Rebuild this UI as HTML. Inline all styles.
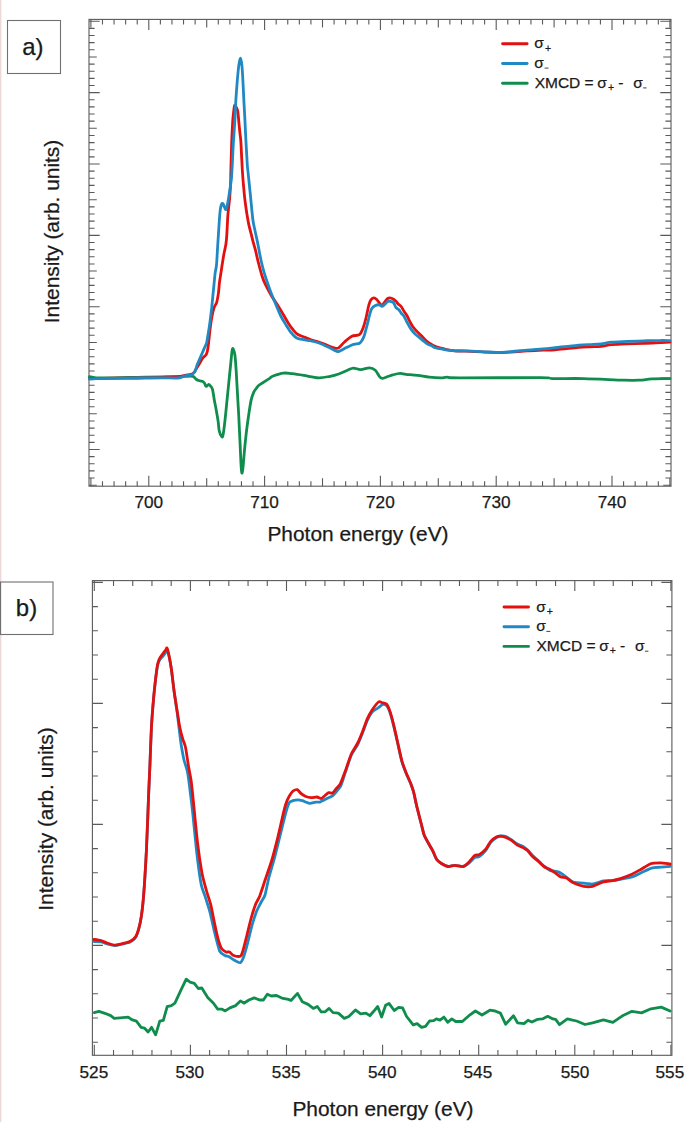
<!DOCTYPE html>
<html><head><meta charset="utf-8"><style>
html,body{margin:0;padding:0;background:#fff;}
body{width:685px;height:1122px;overflow:hidden;position:relative;}
svg{position:absolute;left:0;top:0;}
text{font-family:"Liberation Sans",sans-serif;fill:#1a1a1a;stroke:#1a1a1a;stroke-width:0.25px;}
.pink{position:absolute;left:0;top:0;width:1px;height:1122px;background:#ebd9d8;}
.pink2{position:absolute;left:1px;top:0;width:1px;height:1122px;background:#faf1ef;}
</style></head><body>
<div class="pink"></div><div class="pink2"></div>
<svg width="685" height="1122" viewBox="0 0 685 1122">
<rect x="89.0" y="19.4" width="582.0" height="466.8" fill="none" stroke="#5a5a5a" stroke-width="1.1"/>
<path d="M90.90,486.2v-8M90.90,19.4v8M102.48,486.2v-5M102.48,19.4v5M114.06,486.2v-5M114.06,19.4v5M125.64,486.2v-5M125.64,19.4v5M137.22,486.2v-5M137.22,19.4v5M148.80,486.2v-10.5M148.80,19.4v10.5M160.38,486.2v-5M160.38,19.4v5M171.96,486.2v-5M171.96,19.4v5M183.54,486.2v-5M183.54,19.4v5M195.12,486.2v-5M195.12,19.4v5M206.70,486.2v-8M206.70,19.4v8M218.28,486.2v-5M218.28,19.4v5M229.86,486.2v-5M229.86,19.4v5M241.44,486.2v-5M241.44,19.4v5M253.02,486.2v-5M253.02,19.4v5M264.60,486.2v-10.5M264.60,19.4v10.5M276.18,486.2v-5M276.18,19.4v5M287.76,486.2v-5M287.76,19.4v5M299.34,486.2v-5M299.34,19.4v5M310.92,486.2v-5M310.92,19.4v5M322.50,486.2v-8M322.50,19.4v8M334.08,486.2v-5M334.08,19.4v5M345.66,486.2v-5M345.66,19.4v5M357.24,486.2v-5M357.24,19.4v5M368.82,486.2v-5M368.82,19.4v5M380.40,486.2v-10.5M380.40,19.4v10.5M391.98,486.2v-5M391.98,19.4v5M403.56,486.2v-5M403.56,19.4v5M415.14,486.2v-5M415.14,19.4v5M426.72,486.2v-5M426.72,19.4v5M438.30,486.2v-8M438.30,19.4v8M449.88,486.2v-5M449.88,19.4v5M461.46,486.2v-5M461.46,19.4v5M473.04,486.2v-5M473.04,19.4v5M484.62,486.2v-5M484.62,19.4v5M496.20,486.2v-10.5M496.20,19.4v10.5M507.78,486.2v-5M507.78,19.4v5M519.36,486.2v-5M519.36,19.4v5M530.94,486.2v-5M530.94,19.4v5M542.52,486.2v-5M542.52,19.4v5M554.10,486.2v-8M554.10,19.4v8M565.68,486.2v-5M565.68,19.4v5M577.26,486.2v-5M577.26,19.4v5M588.84,486.2v-5M588.84,19.4v5M600.42,486.2v-5M600.42,19.4v5M612.00,486.2v-10.5M612.00,19.4v10.5M623.58,486.2v-5M623.58,19.4v5M635.16,486.2v-5M635.16,19.4v5M646.74,486.2v-5M646.74,19.4v5M658.32,486.2v-5M658.32,19.4v5M669.90,486.2v-8M669.90,19.4v8M89.0,21.25h10.7M671,21.25h-10.7M89.0,28.39h5.6M671,28.39h-5.6M89.0,35.52h5.6M671,35.52h-5.6M89.0,42.66h5.6M671,42.66h-5.6M89.0,49.80h5.6M671,49.80h-5.6M89.0,56.94h7.8M671,56.94h-7.8M89.0,64.08h5.6M671,64.08h-5.6M89.0,71.21h5.6M671,71.21h-5.6M89.0,78.35h5.6M671,78.35h-5.6M89.0,85.49h5.6M671,85.49h-5.6M89.0,92.62h10.7M671,92.62h-10.7M89.0,99.76h5.6M671,99.76h-5.6M89.0,106.90h5.6M671,106.90h-5.6M89.0,114.04h5.6M671,114.04h-5.6M89.0,121.17h5.6M671,121.17h-5.6M89.0,128.31h7.8M671,128.31h-7.8M89.0,135.45h5.6M671,135.45h-5.6M89.0,142.59h5.6M671,142.59h-5.6M89.0,149.72h5.6M671,149.72h-5.6M89.0,156.86h5.6M671,156.86h-5.6M89.0,164.00h10.7M671,164.00h-10.7M89.0,171.14h5.6M671,171.14h-5.6M89.0,178.28h5.6M671,178.28h-5.6M89.0,185.41h5.6M671,185.41h-5.6M89.0,192.55h5.6M671,192.55h-5.6M89.0,199.69h7.8M671,199.69h-7.8M89.0,206.83h5.6M671,206.83h-5.6M89.0,213.96h5.6M671,213.96h-5.6M89.0,221.10h5.6M671,221.10h-5.6M89.0,228.24h5.6M671,228.24h-5.6M89.0,235.38h10.7M671,235.38h-10.7M89.0,242.51h5.6M671,242.51h-5.6M89.0,249.65h5.6M671,249.65h-5.6M89.0,256.79h5.6M671,256.79h-5.6M89.0,263.93h5.6M671,263.93h-5.6M89.0,271.06h7.8M671,271.06h-7.8M89.0,278.20h5.6M671,278.20h-5.6M89.0,285.34h5.6M671,285.34h-5.6M89.0,292.48h5.6M671,292.48h-5.6M89.0,299.61h5.6M671,299.61h-5.6M89.0,306.75h10.7M671,306.75h-10.7M89.0,313.89h5.6M671,313.89h-5.6M89.0,321.03h5.6M671,321.03h-5.6M89.0,328.16h5.6M671,328.16h-5.6M89.0,335.30h5.6M671,335.30h-5.6M89.0,342.44h7.8M671,342.44h-7.8M89.0,349.57h5.6M671,349.57h-5.6M89.0,356.71h5.6M671,356.71h-5.6M89.0,363.85h5.6M671,363.85h-5.6M89.0,370.99h5.6M671,370.99h-5.6M89.0,378.12h10.7M671,378.12h-10.7M89.0,385.26h5.6M671,385.26h-5.6M89.0,392.40h5.6M671,392.40h-5.6M89.0,399.54h5.6M671,399.54h-5.6M89.0,406.68h5.6M671,406.68h-5.6M89.0,413.81h7.8M671,413.81h-7.8M89.0,420.95h5.6M671,420.95h-5.6M89.0,428.09h5.6M671,428.09h-5.6M89.0,435.23h5.6M671,435.23h-5.6M89.0,442.36h5.6M671,442.36h-5.6M89.0,449.50h10.7M671,449.50h-10.7M89.0,456.64h5.6M671,456.64h-5.6M89.0,463.78h5.6M671,463.78h-5.6M89.0,470.91h5.6M671,470.91h-5.6M89.0,478.05h5.6M671,478.05h-5.6M89.0,485.19h7.8M671,485.19h-7.8" stroke="#5a5a5a" stroke-width="1.1" fill="none"/>
<rect x="92.4" y="580.6" width="579.5" height="474.69999999999993" fill="none" stroke="#5a5a5a" stroke-width="1.1"/>
<path d="M94.30,1055.3v-10.5M94.30,580.6v10.5M113.52,1055.3v-5.3M113.52,580.6v5.3M132.74,1055.3v-5.3M132.74,580.6v5.3M151.96,1055.3v-5.3M151.96,580.6v5.3M171.18,1055.3v-5.3M171.18,580.6v5.3M190.40,1055.3v-10.5M190.40,580.6v10.5M209.62,1055.3v-5.3M209.62,580.6v5.3M228.84,1055.3v-5.3M228.84,580.6v5.3M248.06,1055.3v-5.3M248.06,580.6v5.3M267.28,1055.3v-5.3M267.28,580.6v5.3M286.50,1055.3v-10.5M286.50,580.6v10.5M305.72,1055.3v-5.3M305.72,580.6v5.3M324.94,1055.3v-5.3M324.94,580.6v5.3M344.16,1055.3v-5.3M344.16,580.6v5.3M363.38,1055.3v-5.3M363.38,580.6v5.3M382.60,1055.3v-10.5M382.60,580.6v10.5M401.82,1055.3v-5.3M401.82,580.6v5.3M421.04,1055.3v-5.3M421.04,580.6v5.3M440.26,1055.3v-5.3M440.26,580.6v5.3M459.48,1055.3v-5.3M459.48,580.6v5.3M478.70,1055.3v-10.5M478.70,580.6v10.5M497.92,1055.3v-5.3M497.92,580.6v5.3M517.14,1055.3v-5.3M517.14,580.6v5.3M536.36,1055.3v-5.3M536.36,580.6v5.3M555.58,1055.3v-5.3M555.58,580.6v5.3M574.80,1055.3v-10.5M574.80,580.6v10.5M594.02,1055.3v-5.3M594.02,580.6v5.3M613.24,1055.3v-5.3M613.24,580.6v5.3M632.46,1055.3v-5.3M632.46,580.6v5.3M651.68,1055.3v-5.3M651.68,580.6v5.3M670.90,1055.3v-10.5M670.90,580.6v10.5M92.4,582.40h10.5M671.9,582.40h-10.5M92.4,606.60h5.5M671.9,606.60h-5.5M92.4,630.80h5.5M671.9,630.80h-5.5M92.4,655.00h5.5M671.9,655.00h-5.5M92.4,679.20h5.5M671.9,679.20h-5.5M92.4,703.40h10.5M671.9,703.40h-10.5M92.4,727.60h5.5M671.9,727.60h-5.5M92.4,751.80h5.5M671.9,751.80h-5.5M92.4,776.00h5.5M671.9,776.00h-5.5M92.4,800.20h5.5M671.9,800.20h-5.5M92.4,824.40h10.5M671.9,824.40h-10.5M92.4,848.60h5.5M671.9,848.60h-5.5M92.4,872.80h5.5M671.9,872.80h-5.5M92.4,897.00h5.5M671.9,897.00h-5.5M92.4,921.20h5.5M671.9,921.20h-5.5M92.4,945.40h10.5M671.9,945.40h-10.5M92.4,969.60h5.5M671.9,969.60h-5.5M92.4,993.80h5.5M671.9,993.80h-5.5M92.4,1018.00h5.5M671.9,1018.00h-5.5M92.4,1042.20h5.5M671.9,1042.20h-5.5" stroke="#5a5a5a" stroke-width="1.1" fill="none"/>
<path d="M89.5,376.6 C90.6,376.8 92.4,377.6 96.2,377.8 C100.0,378.0 105.7,377.9 112.5,377.8 C119.3,377.7 128.8,377.5 137.0,377.3 C145.2,377.1 154.0,377.0 161.6,376.8 C169.2,376.6 177.6,376.5 182.8,376.4 C188.0,376.3 190.6,375.9 192.8,376.4 C195.0,376.9 195.0,378.5 196.1,379.2 C197.2,379.9 198.4,380.4 199.5,380.8 C200.6,381.2 202.0,381.0 202.8,381.4 C203.6,381.8 203.9,382.4 204.5,383.2 C205.1,384.0 205.5,386.2 206.2,386.4 C206.9,386.6 208.0,384.3 208.7,384.3 C209.4,384.3 210.0,385.4 210.6,386.2 C211.2,387.0 211.9,387.0 212.5,389.3 C213.1,391.6 213.7,396.5 214.3,399.9 C214.9,403.3 215.6,406.4 216.2,409.9 C216.8,413.4 217.6,417.6 218.1,421.1 C218.6,424.6 218.7,428.5 219.3,431.1 C219.9,433.7 221.2,436.1 221.8,436.7 C222.4,437.3 222.6,437.4 223.1,434.8 C223.6,432.2 224.3,426.5 224.9,421.1 C225.5,415.7 226.2,408.6 226.8,402.4 C227.4,396.2 228.1,389.9 228.7,383.7 C229.3,377.5 230.0,370.6 230.6,365.0 C231.2,359.4 231.7,352.6 232.2,350.0 C232.7,347.4 232.9,348.6 233.4,349.4 C233.9,350.2 234.4,351.4 234.9,355.0 C235.4,358.6 235.8,365.0 236.2,371.2 C236.6,377.4 237.0,385.1 237.4,392.4 C237.8,399.7 238.3,407.0 238.7,414.9 C239.1,422.8 239.5,431.9 239.9,439.8 C240.3,447.7 240.6,456.8 240.9,462.3 C241.2,467.8 241.5,472.1 241.8,472.9 C242.2,473.7 242.6,470.7 243.0,467.3 C243.4,463.9 243.8,457.9 244.3,452.3 C244.8,446.7 245.5,439.8 246.2,433.6 C246.9,427.4 247.9,420.5 248.7,414.9 C249.5,409.3 250.4,403.6 251.2,399.9 C252.0,396.1 252.9,394.3 253.7,392.4 C254.5,390.5 255.3,389.8 256.1,388.7 C256.9,387.6 257.6,386.4 258.6,385.5 C259.7,384.6 261.1,383.8 262.4,383.0 C263.6,382.2 264.8,381.4 266.1,380.6 C267.4,379.8 268.8,378.9 270.0,378.1 C271.2,377.3 270.9,376.8 273.1,376.0 C275.3,375.2 280.2,373.5 283.4,373.1 C286.6,372.7 288.7,373.3 292.1,373.7 C295.5,374.1 299.4,374.7 303.8,375.4 C308.2,376.1 314.0,377.6 318.4,377.8 C322.8,378.0 326.7,376.9 330.1,376.3 C333.5,375.7 335.9,375.0 338.8,374.0 C341.7,373.0 345.2,371.2 347.6,370.2 C350.0,369.2 351.2,368.2 353.4,368.1 C355.6,368.0 358.0,369.7 360.7,369.6 C363.4,369.6 367.1,367.7 369.5,367.8 C371.9,367.9 373.6,368.7 375.3,370.2 C377.0,371.7 378.5,375.5 379.7,376.9 C380.9,378.3 381.1,378.5 382.6,378.4 C384.1,378.3 386.8,376.9 388.5,376.3 C390.2,375.7 390.9,375.4 392.8,374.9 C394.7,374.4 397.9,373.5 400.1,373.4 C402.3,373.3 403.1,374.0 406.0,374.3 C408.9,374.6 413.8,374.9 417.7,375.4 C421.6,375.9 425.4,376.8 429.3,377.2 C433.2,377.6 438.1,377.8 441.0,377.8 C443.9,377.8 443.7,377.2 446.9,377.2 C450.1,377.2 444.4,377.7 460.0,377.8 C475.6,377.9 525.0,377.6 540.5,377.7 C556.0,377.8 545.6,378.5 552.8,378.6 C560.0,378.8 571.9,378.3 583.8,378.6 C595.7,378.9 614.7,379.9 624.0,380.2 C633.3,380.5 634.9,380.4 639.5,380.2 C644.1,380.0 646.8,379.2 651.9,378.9 C657.0,378.6 667.0,378.7 670.0,378.6" stroke="#0f8d4c" stroke-width="2.8" fill="none" stroke-linejoin="round" stroke-linecap="round"/>
<path d="M89.5,378.5 C90.6,378.5 92.2,378.4 96.0,378.4 C99.8,378.3 105.2,378.3 112.0,378.2 C118.8,378.1 128.7,378.1 137.0,378.0 C145.3,377.9 155.2,377.9 162.0,377.7 C168.8,377.5 174.2,377.4 178.0,377.0 C181.8,376.6 182.5,375.9 185.0,375.3 C187.5,374.7 191.0,374.6 192.8,373.6 C194.7,372.6 195.0,370.8 196.1,369.1 C197.2,367.4 198.4,365.5 199.5,363.6 C200.6,361.8 201.7,359.5 202.8,358.0 C203.9,356.5 205.4,356.2 206.2,354.7 C207.0,353.2 207.4,351.5 207.8,349.1 C208.2,346.7 208.5,343.6 208.9,340.2 C209.3,336.8 209.6,332.7 210.1,329.0 C210.6,325.3 211.0,321.4 211.7,317.9 C212.3,314.4 213.2,310.5 214.0,307.9 C214.8,305.3 216.0,304.7 216.7,302.3 C217.4,299.9 217.9,296.7 218.4,293.4 C218.9,290.1 219.0,286.0 219.5,282.3 C220.0,278.6 220.7,274.5 221.2,271.1 C221.7,267.7 222.1,264.9 222.6,262.0 C223.1,259.1 223.4,256.6 224.0,253.6 C224.6,250.6 225.4,247.3 225.9,244.2 C226.4,241.1 226.6,238.0 226.8,234.9 C227.0,231.8 227.1,228.6 227.3,225.5 C227.5,222.4 227.6,219.2 227.8,216.1 C228.0,213.0 228.4,209.9 228.7,206.8 C229.0,203.7 229.4,201.3 229.7,197.4 C230.0,193.5 230.4,188.1 230.6,183.4 C230.8,178.7 230.7,176.3 230.9,169.4 C231.1,162.5 231.4,150.1 231.7,142.2 C232.0,134.2 232.4,126.8 232.7,121.7 C233.0,116.6 233.4,114.2 233.7,111.5 C234.0,108.8 234.3,106.0 234.7,105.3 C235.1,104.6 235.8,106.4 236.3,107.4 C236.8,108.4 237.4,109.1 237.8,111.5 C238.2,113.9 238.5,118.3 238.8,121.7 C239.1,125.1 239.5,128.6 239.8,132.0 C240.2,135.4 240.6,137.5 240.9,142.2 C241.2,146.9 241.5,154.9 241.8,160.0 C242.1,165.1 242.2,168.5 242.5,172.7 C242.8,176.9 243.1,181.2 243.5,185.4 C243.9,189.6 244.2,193.9 244.7,198.1 C245.2,202.3 245.8,206.6 246.4,210.8 C247.1,215.1 247.8,219.8 248.6,223.6 C249.4,227.4 250.3,230.6 251.1,233.7 C251.9,236.8 252.4,239.2 253.2,242.2 C254.0,245.2 255.0,248.2 255.8,251.5 C256.6,254.8 257.1,257.8 258.2,262.0 C259.3,266.2 261.0,272.8 262.2,276.5 C263.4,280.2 263.9,281.4 265.4,284.5 C266.9,287.6 268.9,291.4 271.0,295.0 C273.1,298.6 276.3,303.0 278.3,306.2 C280.3,309.4 281.4,311.3 283.1,314.2 C284.8,317.1 287.0,321.1 288.7,323.8 C290.4,326.5 292.0,328.6 293.5,330.3 C295.0,332.1 295.6,333.1 297.5,334.3 C299.4,335.5 302.8,336.5 305.0,337.4 C307.2,338.3 308.4,339.0 310.9,339.9 C313.4,340.8 317.1,341.5 320.0,342.5 C322.9,343.5 326.0,344.8 328.4,345.7 C330.8,346.6 332.5,347.5 334.2,347.9 C335.9,348.3 336.9,348.9 338.6,347.9 C340.3,346.9 342.3,343.9 344.5,342.0 C346.7,340.1 349.3,337.4 351.8,336.2 C354.3,335.0 357.5,336.0 359.4,334.7 C361.3,333.4 361.9,331.0 363.0,328.2 C364.1,325.4 365.0,321.9 366.0,318.0 C367.0,314.1 368.0,307.9 368.9,304.8 C369.8,301.8 370.2,300.9 371.1,299.7 C372.0,298.5 373.0,297.8 374.0,297.8 C375.0,297.8 375.9,298.8 376.9,299.7 C377.9,300.6 378.9,302.4 379.8,303.4 C380.7,304.4 381.3,305.6 382.0,305.5 C382.7,305.4 383.3,303.7 384.2,302.6 C385.1,301.5 386.4,299.8 387.1,299.0 C387.8,298.2 388.0,298.2 388.6,298.0 C389.2,297.8 389.9,297.8 390.8,298.0 C391.7,298.2 392.9,298.9 393.8,299.5 C394.7,300.1 395.3,300.6 396.0,301.3 C396.7,302.0 397.2,303.0 398.1,303.9 C399.0,304.8 400.1,305.2 401.1,306.4 C402.1,307.6 403.0,309.7 404.0,311.2 C405.0,312.7 405.9,313.8 406.9,315.5 C407.9,317.2 408.8,319.6 409.8,321.4 C410.8,323.2 411.7,325.1 412.7,326.5 C413.7,327.9 414.6,328.9 415.7,330.1 C416.8,331.3 418.1,332.6 419.3,333.8 C420.5,335.0 421.8,336.2 423.0,337.4 C424.2,338.6 425.4,340.1 426.6,341.1 C427.8,342.1 428.9,342.8 430.3,343.6 C431.7,344.5 433.4,345.5 435.0,346.2 C436.6,346.9 438.2,347.4 440.0,347.9 C441.8,348.4 443.0,348.8 445.5,349.3 C448.0,349.8 451.6,350.5 455.0,350.8 C458.4,351.1 461.5,350.9 466.0,351.1 C470.5,351.3 477.0,351.6 482.1,351.9 C487.2,352.2 491.8,352.7 496.6,352.7 C501.4,352.7 505.9,352.4 511.0,352.1 C516.1,351.8 521.8,351.2 527.1,350.9 C532.5,350.6 538.5,350.4 543.1,350.2 C547.8,350.0 550.2,350.1 555.0,349.8 C559.8,349.5 566.4,348.6 572.1,348.1 C577.8,347.6 584.4,347.2 589.2,346.9 C594.0,346.6 597.4,346.7 601.1,346.3 C604.8,345.9 607.1,345.0 611.4,344.6 C615.7,344.2 621.3,344.0 626.7,343.8 C632.1,343.6 638.1,343.6 643.8,343.4 C649.5,343.2 656.5,342.8 660.9,342.6 C665.3,342.4 668.5,342.2 670.0,342.1" stroke="#e2100f" stroke-width="2.8" fill="none" stroke-linejoin="round" stroke-linecap="round"/>
<path d="M89.5,379.2 C90.6,379.1 92.2,378.8 96.0,378.6 C99.8,378.5 105.2,378.4 112.0,378.3 C118.8,378.2 128.7,378.1 137.0,378.0 C145.3,377.9 155.2,377.8 162.0,377.8 C168.8,377.8 174.2,378.3 178.0,378.0 C181.8,377.7 182.7,376.4 185.0,375.8 C187.3,375.2 190.0,375.4 191.7,374.7 C193.4,374.0 194.1,373.1 195.0,371.4 C195.9,369.7 196.3,367.1 197.2,364.7 C198.1,362.3 199.5,359.5 200.6,356.9 C201.7,354.3 202.9,351.5 203.9,349.1 C204.9,346.7 205.9,345.2 206.7,342.4 C207.4,339.6 207.8,335.9 208.4,332.4 C209.0,328.9 209.6,325.3 210.1,321.2 C210.6,317.1 211.2,312.0 211.7,307.9 C212.1,303.8 212.4,300.6 212.8,296.7 C213.2,292.8 213.6,288.4 214.0,284.5 C214.4,280.6 214.7,276.6 215.1,273.4 C215.5,270.1 216.1,269.1 216.5,265.0 C216.9,260.9 217.2,253.9 217.5,248.9 C217.8,243.9 218.1,239.6 218.4,234.9 C218.7,230.2 219.0,225.0 219.3,220.8 C219.6,216.6 219.9,212.4 220.3,209.6 C220.7,206.8 221.2,204.9 221.7,204.0 C222.2,203.1 222.6,203.4 223.1,204.0 C223.6,204.6 224.0,206.4 224.5,207.3 C225.0,208.2 225.4,210.0 225.9,209.6 C226.4,209.2 226.8,206.9 227.3,204.9 C227.8,202.9 228.2,200.2 228.7,197.4 C229.2,194.6 229.6,191.2 230.1,188.1 C230.6,185.0 231.1,181.8 231.4,178.7 C231.7,175.6 231.8,172.5 232.0,169.4 C232.2,166.3 232.3,164.5 232.5,160.0 C232.7,155.5 233.0,148.6 233.4,142.2 C233.8,135.8 234.4,128.5 234.8,121.7 C235.2,114.9 235.4,108.0 235.8,101.2 C236.2,94.4 236.8,86.7 237.3,80.7 C237.8,74.7 238.3,69.2 238.8,65.4 C239.3,61.7 239.9,58.2 240.4,58.2 C240.9,58.2 241.5,61.7 241.9,65.4 C242.3,69.2 242.6,74.7 242.9,80.7 C243.2,86.7 243.6,94.4 243.9,101.2 C244.2,108.0 244.7,114.9 245.0,121.7 C245.3,128.5 245.6,135.0 246.0,142.2 C246.4,149.4 247.0,159.9 247.3,165.0 C247.7,170.1 247.8,169.3 248.1,172.7 C248.4,176.1 249.0,181.2 249.4,185.4 C249.8,189.6 250.3,193.9 250.7,198.1 C251.1,202.3 251.5,206.8 251.9,210.8 C252.3,214.8 252.6,218.4 253.2,221.9 C253.8,225.4 254.6,228.6 255.3,232.0 C256.0,235.4 256.8,238.7 257.5,242.2 C258.2,245.7 259.0,249.9 259.6,253.2 C260.2,256.5 260.6,258.5 261.4,262.0 C262.2,265.5 263.5,270.5 264.6,274.1 C265.7,277.7 266.6,280.2 267.8,283.7 C269.0,287.2 270.5,291.5 271.9,295.0 C273.2,298.5 274.4,301.1 275.9,304.6 C277.4,308.1 279.0,312.3 280.7,315.8 C282.4,319.3 284.6,322.6 286.3,325.4 C288.0,328.2 289.5,330.7 291.1,332.7 C292.7,334.7 294.3,336.4 295.9,337.5 C297.5,338.6 298.4,338.7 300.7,339.2 C302.9,339.7 306.5,340.0 309.4,340.6 C312.3,341.2 315.3,341.8 318.2,342.8 C321.1,343.8 324.2,345.2 326.9,346.4 C329.6,347.6 332.2,349.2 334.2,350.1 C336.1,351.0 336.9,351.8 338.6,351.5 C340.3,351.2 342.3,349.7 344.5,348.6 C346.7,347.5 350.1,345.7 351.8,345.0 C353.6,344.3 353.6,344.6 355.0,344.2 C356.4,343.8 358.6,344.0 360.1,342.8 C361.6,341.6 362.7,339.6 363.8,336.9 C364.9,334.2 365.7,330.3 366.7,326.7 C367.7,323.1 368.8,318.0 369.6,315.0 C370.5,312.0 370.8,310.1 371.8,308.5 C372.8,306.9 374.2,306.1 375.4,305.5 C376.6,304.9 378.0,304.7 379.1,304.8 C380.2,304.9 381.1,306.3 382.0,306.3 C382.9,306.3 383.4,305.4 384.2,304.8 C385.0,304.2 385.9,303.1 386.6,302.5 C387.3,301.9 387.8,301.1 388.6,301.0 C389.4,300.9 390.7,301.3 391.6,301.7 C392.5,302.1 393.1,302.1 393.8,303.1 C394.5,304.1 395.1,306.4 396.0,307.5 C396.9,308.6 398.0,308.7 398.9,309.7 C399.8,310.7 400.5,312.3 401.4,313.4 C402.2,314.5 403.1,314.9 404.0,316.3 C404.9,317.8 405.9,320.3 406.9,322.1 C407.9,323.9 408.9,325.8 409.8,327.2 C410.7,328.6 411.0,329.3 412.0,330.5 C413.0,331.7 414.5,333.4 415.7,334.5 C416.9,335.6 418.0,336.3 419.3,337.4 C420.6,338.5 422.2,339.9 423.7,341.1 C425.2,342.3 426.8,343.6 428.1,344.4 C429.4,345.2 430.6,345.2 431.7,345.8 C432.8,346.4 433.6,347.2 435.0,347.7 C436.4,348.2 438.2,348.2 440.0,348.6 C441.8,349.0 443.0,349.4 445.5,349.8 C448.0,350.2 451.6,350.6 455.0,350.8 C458.4,351.0 461.5,350.8 466.0,350.9 C470.5,351.0 477.0,351.4 482.1,351.7 C487.2,352.0 491.8,352.5 496.6,352.5 C501.4,352.5 505.9,352.1 511.0,351.7 C516.1,351.3 521.8,350.6 527.1,350.1 C532.5,349.6 538.5,349.3 543.1,348.9 C547.8,348.5 550.2,348.2 555.0,347.7 C559.8,347.2 566.4,346.3 572.1,345.8 C577.8,345.3 584.4,344.9 589.2,344.6 C594.0,344.3 597.4,344.2 601.1,343.8 C604.8,343.4 607.1,342.5 611.4,342.1 C615.7,341.7 621.3,341.6 626.7,341.4 C632.1,341.2 638.1,341.1 643.8,340.9 C649.5,340.7 656.5,340.4 660.9,340.4 C665.3,340.3 668.5,340.6 670.0,340.6" stroke="#2089c4" stroke-width="2.8" fill="none" stroke-linejoin="round" stroke-linecap="round"/>
<path d="M94.3,1012.6 L99.0,1011.4 L104.9,1013.3 L110.7,1015.6 L114.2,1018.4 L120.0,1017.9 L128.2,1017.2 L131.7,1019.6 L136.4,1021.2 L141.1,1027.3 L144.6,1028.2 L148.1,1032.0 L151.6,1027.3 L155.6,1034.8 L159.8,1021.2 L163.3,1020.3 L167.2,1006.7 L171.4,1005.6 L174.9,1003.2 L180.8,990.4 L186.2,979.2 L190.1,982.2 L194.3,983.4 L198.3,988.5 L201.8,988.0 L207.7,997.4 L213.5,1003.2 L217.7,1009.1 L221.7,1009.1 L225.2,1010.9 L229.9,1007.9 L235.7,1005.6 L240.4,1000.9 L243.9,1003.2 L248.9,1000.0 L254.2,997.9 L259.5,1000.0 L263.4,1000.0 L267.3,994.2 L271.3,996.0 L276.5,995.5 L281.8,998.1 L288.4,999.4 L291.0,1000.5 L297.5,993.4 L302.3,1001.8 L308.1,1004.4 L313.3,1008.4 L317.3,1006.5 L321.2,1011.8 L325.1,1011.8 L329.1,1008.4 L333.0,1012.6 L338.3,1013.1 L344.3,1018.4 L348.8,1016.5 L355.4,1009.9 L360.6,1013.9 L365.9,1013.1 L369.8,1015.7 L373.7,1011.3 L377.7,1006.5 L381.6,1017.0 L385.6,1005.2 L389.0,1003.4 L394.2,1010.5 L398.7,1007.3 L402.6,1007.8 L406.6,1016.5 L413.2,1024.9 L417.1,1023.6 L421.6,1027.3 L425.5,1026.3 L429.5,1021.0 L433.4,1020.7 L436.5,1018.9 L440.0,1020.2 L443.9,1017.1 L447.8,1022.3 L451.8,1018.9 L455.7,1021.5 L462.3,1021.5 L468.9,1015.7 L475.4,1011.0 L482.0,1015.0 L489.9,1010.2 L495.1,1011.0 L500.4,1013.1 L505.6,1024.2 L513.5,1015.7 L517.5,1022.8 L524.0,1023.6 L528.0,1020.2 L531.9,1022.1 L537.2,1019.4 L542.4,1018.9 L547.7,1016.3 L552.9,1018.9 L555.6,1019.4 L559.5,1024.7 L567.4,1018.9 L572.6,1020.2 L576.6,1021.0 L585.0,1024.5 L592.6,1022.8 L603.4,1019.8 L612.9,1022.4 L623.1,1015.4 L632.0,1011.3 L641.5,1012.9 L651.0,1008.8 L661.2,1007.1 L670.1,1011.0" stroke="#0f8d4c" stroke-width="2.8" fill="none" stroke-linejoin="round" stroke-linecap="round"/>
<path d="M94.0,941.5 C94.8,941.6 99.6,941.7 101.1,942.0 C102.6,942.3 105.6,943.6 107.2,944.0 C108.8,944.4 112.9,945.5 114.7,945.5 C116.5,945.5 120.5,944.4 122.3,944.0 C124.1,943.6 128.3,942.8 129.9,942.0 C131.5,941.2 134.8,939.2 136.0,936.8 C137.2,934.4 139.6,926.1 140.5,921.5 C141.4,916.9 142.8,906.0 143.5,897.5 C144.2,889.0 145.9,860.9 146.5,849.0 C147.1,837.1 148.2,805.5 148.6,795.5 C149.0,785.5 149.7,771.4 150.0,763.5 C150.3,755.6 151.0,735.5 151.4,728.0 C151.8,720.5 153.0,705.3 153.5,699.5 C154.0,693.7 155.2,682.6 155.7,678.5 C156.2,674.4 157.3,666.7 157.8,664.5 C158.3,662.3 159.3,660.5 160.0,659.5 C160.7,658.5 162.8,656.3 163.5,655.5 C164.2,654.7 165.3,653.0 165.7,652.5 C166.1,652.0 166.7,650.5 167.1,651.0 C167.5,651.5 168.7,654.9 169.2,657.0 C169.7,659.1 170.8,665.1 171.4,669.2 C172.0,673.3 173.5,687.0 174.2,692.0 C174.9,697.0 176.4,707.0 177.1,712.0 C177.8,717.0 179.4,731.0 179.9,735.0 C180.4,739.0 180.9,743.3 181.4,746.2 C181.9,749.1 183.3,757.0 184.0,760.0 C184.7,763.0 186.7,767.9 187.5,772.0 C188.3,776.1 190.0,789.9 190.6,795.0 C191.2,800.1 192.3,809.0 193.0,815.6 C193.7,822.2 195.7,843.4 196.6,851.3 C197.5,859.2 200.0,878.0 201.0,883.4 C202.0,888.8 204.5,894.3 205.5,897.6 C206.5,900.9 208.9,907.9 209.9,911.9 C210.9,915.9 213.3,926.9 214.4,931.5 C215.5,936.1 218.5,948.3 219.7,951.1 C220.9,953.9 224.0,955.0 225.1,955.6 C226.2,956.2 227.7,956.0 228.7,956.5 C229.7,957.0 232.7,959.3 234.0,960.0 C235.3,960.7 239.1,963.1 240.2,962.7 C241.3,962.3 243.0,958.7 243.8,956.5 C244.6,954.3 246.5,947.5 247.4,944.0 C248.3,940.5 250.8,929.9 251.8,926.2 C252.8,922.5 255.3,914.6 256.3,911.9 C257.3,909.2 259.7,905.0 260.7,903.0 C261.7,901.0 264.1,897.9 265.0,895.0 C265.9,892.1 267.7,882.4 268.8,878.0 C269.9,873.6 273.2,862.7 274.6,857.6 C276.0,852.5 279.1,839.3 280.4,834.2 C281.7,829.1 284.5,817.5 285.5,813.8 C286.5,810.1 288.3,804.3 289.2,802.8 C290.1,801.3 291.8,801.0 292.8,800.7 C293.8,800.4 296.9,799.9 298.0,799.9 C299.1,799.9 300.9,800.3 302.3,800.7 C303.7,801.1 308.1,803.1 309.6,803.3 C311.1,803.5 314.3,802.2 315.5,802.1 C316.7,802.0 318.9,802.4 319.9,802.1 C320.9,801.8 323.2,800.4 324.2,799.9 C325.2,799.4 327.6,798.2 328.6,797.7 C329.6,797.2 332.0,796.4 333.0,795.5 C334.0,794.6 336.5,791.6 337.4,790.4 C338.3,789.2 340.0,787.5 341.0,785.3 C342.0,783.1 344.4,775.0 345.6,771.5 C346.8,768.0 349.8,758.6 351.2,755.5 C352.6,752.4 356.4,747.1 357.7,744.5 C359.0,741.9 361.4,735.8 362.5,733.0 C363.6,730.2 366.2,723.0 367.3,720.5 C368.4,718.0 370.8,713.5 372.1,712.0 C373.4,710.5 377.3,708.6 378.5,707.7 C379.7,706.8 381.6,704.8 382.5,704.5 C383.4,704.2 385.6,704.6 386.5,705.5 C387.4,706.4 388.9,709.5 389.8,712.0 C390.7,714.5 392.9,722.8 393.8,726.5 C394.7,730.2 396.9,739.9 397.8,744.0 C398.7,748.1 400.9,758.2 401.8,761.5 C402.7,764.8 404.8,769.9 405.8,772.5 C406.8,775.1 409.7,781.1 410.6,783.5 C411.5,785.9 413.1,790.2 413.8,793.0 C414.5,795.8 416.1,803.9 417.0,807.5 C417.9,811.1 420.2,820.2 421.1,823.5 C422.0,826.8 423.3,832.9 424.3,835.5 C425.3,838.1 428.9,844.2 429.9,846.0 C430.9,847.8 432.0,849.4 432.8,851.0 C433.6,852.6 435.6,858.0 436.6,859.5 C437.6,861.0 440.1,862.7 441.4,863.5 C442.7,864.3 446.4,866.3 448.0,866.5 C449.6,866.7 452.9,865.4 454.7,865.4 C456.5,865.4 461.6,866.7 463.2,866.5 C464.8,866.3 466.7,865.0 468.0,864.0 C469.3,863.0 473.3,858.4 474.6,857.5 C475.9,856.6 478.0,857.4 479.3,856.5 C480.6,855.6 484.7,851.6 486.0,850.0 C487.3,848.4 489.5,844.0 490.7,842.5 C491.9,841.0 495.2,838.3 496.4,837.5 C497.6,836.7 500.1,836.1 501.2,836.0 C502.3,835.9 504.7,836.0 505.9,836.5 C507.1,837.0 510.3,839.1 511.6,840.0 C512.9,840.9 516.0,843.2 517.3,844.0 C518.6,844.8 521.8,845.8 523.0,846.5 C524.2,847.2 526.6,849.0 527.7,850.0 C528.8,851.0 531.3,854.3 532.5,855.5 C533.7,856.7 536.9,859.3 538.2,860.5 C539.5,861.7 542.5,864.8 543.9,866.0 C545.3,867.2 548.2,869.7 550.0,870.4 C551.8,871.1 557.0,871.3 558.9,872.1 C560.8,872.9 564.3,875.8 566.0,877.0 C567.7,878.2 570.9,881.3 573.2,882.0 C575.5,882.7 583.3,883.1 585.6,883.3 C587.9,883.5 590.6,884.3 592.7,884.0 C594.8,883.7 601.1,881.4 603.4,881.0 C605.7,880.6 610.2,880.8 612.3,880.6 C614.4,880.4 618.9,879.6 621.2,879.2 C623.5,878.8 629.6,877.7 631.9,877.0 C634.2,876.3 638.5,874.0 640.8,873.0 C643.1,872.0 649.2,868.8 651.5,868.1 C653.8,867.4 658.2,867.3 660.4,867.1 C662.6,866.9 669.1,866.5 670.2,866.4" stroke="#2089c4" stroke-width="2.8" fill="none" stroke-linejoin="round" stroke-linecap="round"/>
<path d="M94.0,939.5 C94.8,939.6 99.6,940.2 101.1,940.6 C102.6,941.0 105.6,942.5 107.2,943.0 C108.8,943.5 112.9,945.1 114.7,945.2 C116.5,945.3 120.5,944.0 122.3,943.6 C124.1,943.2 128.3,942.4 129.9,941.5 C131.5,940.6 134.8,938.5 136.0,936.1 C137.2,933.7 139.6,925.5 140.5,920.9 C141.4,916.3 142.8,905.2 143.5,896.7 C144.2,888.2 145.9,860.1 146.5,848.2 C147.1,836.3 148.2,804.9 148.6,795.0 C149.0,785.1 149.7,771.2 150.0,763.3 C150.3,755.4 151.0,735.2 151.4,727.7 C151.8,720.2 153.0,705.0 153.5,699.2 C154.0,693.4 155.2,682.0 155.7,677.8 C156.2,673.6 157.3,665.8 157.8,663.5 C158.3,661.2 159.3,659.0 160.0,657.8 C160.7,656.6 162.8,653.7 163.5,652.8 C164.2,651.9 165.3,650.5 165.7,650.0 C166.1,649.5 166.7,647.4 167.1,648.1 C167.5,648.8 168.7,653.9 169.2,656.4 C169.7,658.9 170.8,665.0 171.4,669.2 C172.0,673.4 173.5,687.2 174.2,692.0 C174.9,696.8 176.4,706.4 177.1,710.6 C177.8,714.8 179.2,724.4 179.9,727.7 C180.6,731.0 182.1,736.8 182.8,739.1 C183.5,741.4 184.9,744.5 185.6,747.7 C186.3,750.9 187.8,762.2 188.5,766.2 C189.2,770.2 190.7,777.2 191.3,781.9 C191.9,786.6 193.2,799.6 193.9,806.7 C194.6,813.8 196.6,834.7 197.5,842.4 C198.4,850.1 200.9,867.1 201.9,872.7 C202.9,878.3 205.4,886.8 206.4,890.5 C207.4,894.2 209.9,901.1 210.8,904.8 C211.7,908.5 213.6,918.7 214.4,922.6 C215.2,926.5 217.2,935.6 218.0,938.6 C218.8,941.6 220.6,946.8 221.5,948.4 C222.4,950.0 225.1,951.6 226.0,952.0 C226.9,952.4 228.7,951.6 229.5,952.0 C230.3,952.4 232.0,954.7 233.1,955.2 C234.2,955.7 237.6,956.5 238.5,956.5 C239.4,956.5 240.5,956.6 241.1,955.6 C241.7,954.6 243.1,950.2 243.8,947.6 C244.5,945.0 246.6,936.6 247.4,933.3 C248.2,930.0 250.0,922.3 250.9,919.0 C251.8,915.7 254.4,907.5 255.4,904.8 C256.4,902.1 258.6,899.0 259.8,895.9 C261.0,892.8 264.4,882.1 265.8,878.0 C267.2,873.9 270.3,865.1 271.7,860.5 C273.1,855.9 276.3,843.4 277.5,838.6 C278.7,833.8 281.0,823.5 281.9,819.6 C282.8,815.7 284.6,807.7 285.5,805.0 C286.4,802.3 288.3,797.9 289.2,796.3 C290.1,794.7 291.9,792.0 292.8,791.2 C293.7,790.4 296.3,789.4 297.2,789.7 C298.1,790.0 300.0,792.6 300.9,793.4 C301.8,794.2 304.1,795.8 305.3,796.3 C306.5,796.8 309.7,797.6 311.1,797.7 C312.5,797.8 315.7,796.9 316.9,797.0 C318.1,797.1 320.4,798.7 321.3,798.5 C322.2,798.3 324.1,796.2 325.0,795.5 C325.9,794.8 327.7,792.9 328.6,792.6 C329.5,792.3 331.4,793.5 332.3,793.1 C333.2,792.7 335.0,790.1 335.9,789.0 C336.8,787.9 339.2,786.1 340.3,783.9 C341.4,781.7 344.3,773.8 345.6,770.3 C346.9,766.8 349.8,757.4 351.2,754.2 C352.6,751.0 356.4,745.6 357.7,743.0 C359.0,740.4 361.4,734.5 362.5,731.7 C363.6,728.9 366.2,721.4 367.3,718.9 C368.4,716.4 370.8,712.1 372.1,710.1 C373.4,708.1 377.3,702.9 378.5,702.0 C379.7,701.1 381.6,702.6 382.5,702.8 C383.4,703.0 385.6,703.2 386.5,704.1 C387.4,705.0 388.9,708.4 389.8,710.9 C390.7,713.4 392.9,721.6 393.8,725.3 C394.7,729.0 396.9,738.9 397.8,743.0 C398.7,747.1 400.9,757.2 401.8,760.6 C402.7,764.0 404.8,769.3 405.8,771.9 C406.8,774.5 409.7,780.7 410.6,783.1 C411.5,785.5 413.1,789.9 413.8,792.7 C414.5,795.5 416.1,803.6 417.0,807.2 C417.9,810.8 420.2,819.9 421.1,823.2 C422.0,826.5 423.3,832.7 424.3,835.3 C425.3,837.9 428.9,843.9 429.9,845.7 C430.9,847.5 432.0,849.2 432.8,850.8 C433.6,852.4 435.6,857.8 436.6,859.3 C437.6,860.8 440.1,862.7 441.4,863.5 C442.7,864.3 446.4,866.3 448.0,866.5 C449.6,866.7 452.9,865.4 454.7,865.4 C456.5,865.4 461.6,866.8 463.2,866.5 C464.8,866.2 466.7,864.4 468.0,863.1 C469.3,861.8 473.3,856.5 474.6,855.5 C475.9,854.5 478.0,855.4 479.3,854.6 C480.6,853.8 484.7,850.5 486.0,848.9 C487.3,847.3 489.5,842.7 490.7,841.3 C491.9,839.9 495.2,837.5 496.4,836.9 C497.6,836.3 500.1,836.1 501.2,836.2 C502.3,836.3 504.7,837.0 505.9,837.5 C507.1,838.0 510.3,839.5 511.6,840.4 C512.9,841.3 516.0,844.3 517.3,845.1 C518.6,845.9 521.8,846.9 523.0,847.6 C524.2,848.3 526.6,849.8 527.7,850.8 C528.8,851.8 531.3,855.3 532.5,856.5 C533.7,857.7 536.9,860.0 538.2,861.2 C539.5,862.4 542.5,865.5 543.9,866.5 C545.3,867.5 548.7,868.7 550.0,869.4 C551.3,870.1 554.1,872.0 555.3,872.9 C556.5,873.8 559.5,876.4 560.7,877.0 C561.9,877.6 564.5,877.1 566.0,877.8 C567.5,878.5 571.1,881.7 573.2,882.7 C575.3,883.7 581.5,885.9 583.8,886.3 C586.1,886.7 590.4,886.8 592.7,886.3 C595.0,885.8 601.1,882.6 603.4,881.9 C605.7,881.2 610.2,881.0 612.3,880.6 C614.4,880.2 618.9,879.0 621.2,878.3 C623.5,877.6 629.6,875.2 631.9,874.2 C634.2,873.2 638.6,870.6 640.8,869.4 C643.0,868.2 648.3,864.5 650.6,863.7 C652.9,862.9 658.1,862.8 660.4,862.8 C662.7,862.8 669.1,863.9 670.2,864.0" stroke="#e2100f" stroke-width="2.8" fill="none" stroke-linejoin="round" stroke-linecap="round"/>
<text x="148.8" y="508.2" text-anchor="middle" font-size="17.2">700</text>
<text x="264.6" y="508.2" text-anchor="middle" font-size="17.2">710</text>
<text x="380.4" y="508.2" text-anchor="middle" font-size="17.2">720</text>
<text x="496.2" y="508.2" text-anchor="middle" font-size="17.2">730</text>
<text x="612.0" y="508.2" text-anchor="middle" font-size="17.2">740</text>
<text x="93.9" y="1077.8" text-anchor="middle" font-size="17.2">525</text>
<text x="189.8" y="1077.8" text-anchor="middle" font-size="17.2">530</text>
<text x="286.2" y="1077.8" text-anchor="middle" font-size="17.2">535</text>
<text x="382.3" y="1077.8" text-anchor="middle" font-size="17.2">540</text>
<text x="477.9" y="1077.8" text-anchor="middle" font-size="17.2">545</text>
<text x="575.0" y="1077.8" text-anchor="middle" font-size="17.2">550</text>
<text x="669.9" y="1077.8" text-anchor="middle" font-size="17.2">555</text>
<text x="358" y="540.9" text-anchor="middle" font-size="20.9">Photon energy (eV)</text>
<text x="383" y="1115.7" text-anchor="middle" font-size="20.9">Photon energy (eV)</text>
<text transform="translate(59,231.5) rotate(-90)" text-anchor="middle" font-size="20.9">Intensity (arb. units)</text>
<text transform="translate(52.8,819) rotate(-90)" text-anchor="middle" font-size="20.9">Intensity (arb. units)</text>
<line x1="502.6" y1="43.8" x2="527.1" y2="43.8" stroke="#e2100f" stroke-width="2.9" stroke-linecap="round"/>
<line x1="502.6" y1="63.5" x2="527.1" y2="63.5" stroke="#2089c4" stroke-width="2.9" stroke-linecap="round"/>
<line x1="502.6" y1="83.2" x2="527.1" y2="83.2" stroke="#0f8d4c" stroke-width="2.9" stroke-linecap="round"/>
<text x="534.35" y="48.3" font-size="15.5">σ</text>
<text x="544.99" y="51.5" font-size="10.5">+</text>
<text x="534.35" y="68.1" font-size="15.5">σ</text>
<rect x="544.60" y="67.60" width="3.9" height="1.0" fill="#444"/>
<text x="534.66" y="87.9" font-size="15.5">XMCD =</text>
<text x="597.35" y="87.9" font-size="15.5">σ</text>
<text x="607.99" y="91.1" font-size="10.5">+</text>
<text x="618.32" y="87.9" font-size="15.5">-</text>
<text x="633.25" y="87.9" font-size="15.5">σ</text>
<rect x="643.10" y="87.40" width="3.5" height="1.0" fill="#444"/>
<line x1="504.0" y1="607.0" x2="528.5" y2="607.0" stroke="#e2100f" stroke-width="2.9" stroke-linecap="round"/>
<line x1="504.0" y1="626.7" x2="528.5" y2="626.7" stroke="#2089c4" stroke-width="2.9" stroke-linecap="round"/>
<line x1="504.0" y1="646.4" x2="528.5" y2="646.4" stroke="#0f8d4c" stroke-width="2.9" stroke-linecap="round"/>
<text x="536.15" y="611.6" font-size="15.5">σ</text>
<text x="546.79" y="614.8" font-size="10.5">+</text>
<text x="536.15" y="631.4" font-size="15.5">σ</text>
<rect x="546.40" y="630.90" width="3.9" height="1.0" fill="#444"/>
<text x="536.46" y="651.2" font-size="15.5">XMCD =</text>
<text x="599.15" y="651.2" font-size="15.5">σ</text>
<text x="609.79" y="654.4" font-size="10.5">+</text>
<text x="620.12" y="651.2" font-size="15.5">-</text>
<text x="635.05" y="651.2" font-size="15.5">σ</text>
<rect x="644.90" y="650.70" width="3.5" height="1.0" fill="#444"/>
<rect x="7.5" y="20.5" width="53" height="53" fill="none" stroke="#707070" stroke-width="1.1"/>
<text x="32.9" y="55.4" text-anchor="middle" font-size="24">a)</text>
<rect x="0.5" y="582" width="52.5" height="52.5" fill="none" stroke="#707070" stroke-width="1.1"/>
<text x="26.5" y="616.3" text-anchor="middle" font-size="24">b)</text>
</svg>
</body></html>
